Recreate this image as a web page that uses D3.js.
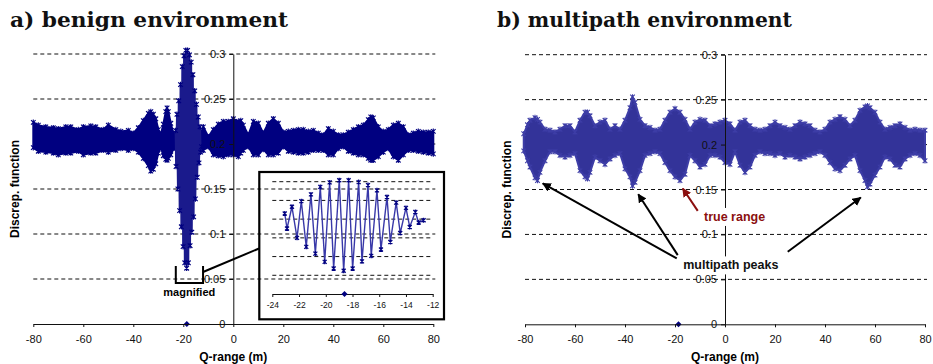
<!DOCTYPE html>
<html><head><meta charset="utf-8">
<script src="https://cdn.jsdelivr.net/npm/d3@7"></script>
<style>body{margin:0;background:#fff} svg{display:block}</style>
</head><body><svg id="c" width="933" height="364"></svg>
<script>
// ---------- data ----------
const xTicks = [-80,-60,-40,-20,0,20,40,60,80];
const yTicks = [0,0.05,0.1,0.15,0.2,0.25,0.3];
const yTickLabels = ["0","0.05","0.1","0.15","0.2","0.25","0.3"];
const insetTicks = [-24,-22,-20,-18,-16,-14,-12];
const trueRange = -18.6;

// benign environment: envelope of the dense discriminator samples
const benignX     = [-80,-78,-75,-72,-70,-67,-65,-62,-60,-57,-55,-52,-50,-47,-45,-42,-40,-38,-36,-34,-33,-32,-31,-30,-29,-28,-27,-26.5,-26,-25,-24,-23.5,-22,-20,-18,-16,-14,-12.5,-12,-10,-8,-6,-4,-2,0,2,3,4,6,8,10,12,14,16,18,20,22,24,26,28,30,32,34,36,38,40,42,44,46,48,50,52,54,55,56,58,60,62,64,66,68,70,72,74,76,78,80];
const benignUpper = [0.224,0.221,0.219,0.218,0.217,0.219,0.219,0.216,0.219,0.220,0.219,0.216,0.221,0.216,0.214,0.215,0.212,0.218,0.226,0.234,0.236,0.233,0.228,0.216,0.210,0.222,0.236,0.240,0.236,0.223,0.212,0.210,0.215,0.215,0.215,0.215,0.215,0.214,0.219,0.208,0.216,0.222,0.225,0.225,0.228,0.225,0.226,0.221,0.210,0.225,0.223,0.212,0.223,0.228,0.223,0.213,0.214,0.215,0.216,0.216,0.214,0.215,0.212,0.210,0.217,0.214,0.210,0.210,0.213,0.216,0.219,0.221,0.227,0.230,0.229,0.219,0.214,0.216,0.221,0.223,0.219,0.210,0.212,0.214,0.213,0.213,0.214];
const benignLower = [0.196,0.192,0.191,0.190,0.188,0.190,0.190,0.192,0.188,0.190,0.190,0.193,0.191,0.193,0.195,0.193,0.195,0.191,0.184,0.176,0.170,0.172,0.178,0.190,0.197,0.187,0.183,0.182,0.184,0.188,0.195,0.196,0.192,0.192,0.192,0.192,0.192,0.193,0.193,0.197,0.188,0.187,0.186,0.188,0.188,0.186,0.190,0.193,0.197,0.188,0.188,0.194,0.188,0.188,0.190,0.197,0.192,0.191,0.190,0.190,0.191,0.193,0.193,0.193,0.188,0.188,0.195,0.197,0.192,0.190,0.188,0.188,0.184,0.182,0.182,0.186,0.191,0.195,0.186,0.182,0.188,0.193,0.193,0.192,0.191,0.190,0.189];

// main correlation peak (also shown magnified): alternating maxima / minima
const peakX = [-23.07,-22.9,-22.53,-22.15,-21.83,-21.46,-21.11,-20.78,-20.41,-20.08,-19.71,-19.41,-18.99,-18.66,-18.29,-17.99,-17.54,-17.29,-16.84,-16.6,-16.17,-15.87,-15.42,-15.17,-14.73,-14.43,-14.0,-13.72,-13.3,-13.05,-12.68];
const peakY = [0.215,0.175,0.233,0.150,0.248,0.126,0.266,0.108,0.286,0.086,0.298,0.068,0.304,0.062,0.304,0.068,0.299,0.087,0.291,0.102,0.277,0.119,0.259,0.139,0.244,0.163,0.230,0.179,0.219,0.191,0.197];

// multipath environment: envelope of the dense discriminator samples
const multiX     = [-80.5,-79,-78,-76,-75,-74,-72,-70,-68,-66,-64,-62,-60,-58,-56,-55,-54,-52,-50,-48,-46,-44,-42,-40,-38,-37,-36,-34,-32,-30,-28,-26,-24,-22,-20,-18,-16,-14,-12,-10,-8,-6,-4,-2,0,2,4,6,8,10,12,14,16,18,20,22,24,26,28,30,32,34,36,38,40,42,44,46,48,50,52,54,56,57,58,60,62,64,66,68,70,72,74,76,78,80];
const multiUpper = [0.212,0.222,0.227,0.230,0.228,0.225,0.217,0.216,0.214,0.217,0.221,0.221,0.214,0.227,0.236,0.236,0.232,0.221,0.225,0.227,0.217,0.221,0.217,0.227,0.241,0.253,0.247,0.228,0.221,0.219,0.216,0.217,0.227,0.236,0.240,0.236,0.228,0.217,0.225,0.228,0.227,0.221,0.223,0.225,0.227,0.223,0.216,0.225,0.227,0.221,0.217,0.216,0.217,0.221,0.225,0.221,0.219,0.217,0.221,0.225,0.223,0.221,0.216,0.214,0.217,0.225,0.228,0.231,0.228,0.221,0.227,0.238,0.242,0.243,0.241,0.236,0.225,0.217,0.219,0.221,0.223,0.219,0.216,0.217,0.216,0.216];
const multiLower = [0.193,0.182,0.175,0.163,0.160,0.169,0.182,0.192,0.192,0.188,0.186,0.188,0.190,0.171,0.164,0.162,0.169,0.186,0.182,0.178,0.184,0.188,0.190,0.173,0.164,0.154,0.158,0.171,0.188,0.190,0.192,0.190,0.180,0.171,0.164,0.160,0.167,0.188,0.182,0.175,0.178,0.188,0.188,0.186,0.180,0.178,0.192,0.177,0.169,0.175,0.188,0.192,0.190,0.190,0.188,0.190,0.186,0.188,0.186,0.184,0.186,0.188,0.190,0.192,0.188,0.180,0.173,0.171,0.177,0.184,0.188,0.171,0.160,0.153,0.156,0.166,0.175,0.186,0.184,0.177,0.175,0.184,0.188,0.190,0.188,0.182];

// annotations (data units of the multipath panel)
const peakArrows = [
  {from:[-19.3,0.0733], to:[-72.9,0.1567]},
  {from:[-18.9,0.077],  to:[-34.7,0.1448]},
  {from:[25.1,0.0807],  to:[54.3,0.1411]}
];
const trueArrow = {from:[-10.9,0.1262], to:[-16.9,0.1511]};

// ---------- drawing ----------
const svg = d3.select("#c");
const FONT = "'Liberation Sans', Arial, sans-serif";
const NAVY = "#000080", MPB = "#333399";

const defs = svg.append("defs");
[["ahBlack","#000"],["ahRed","#8b0f0f"]].forEach(([id,col])=>{
  defs.append("marker").attr("id",id).attr("viewBox","0 0 10 10").attr("refX",9).attr("refY",5)
    .attr("markerWidth",9).attr("markerHeight",9).attr("markerUnits","userSpaceOnUse").attr("orient","auto")
    .append("path").attr("d","M0,0L10,5L0,10z").attr("fill",col);
});

const star = "M-2.3,-2.3L2.3,2.3M-2.3,2.3L2.3,-2.3M0,-2.8L0,2.8";

function panel(x0, x1, yBot, yTop, title, titleX, titleLen, labelX) {
  const x = d3.scaleLinear([-80,80],[x0,x1]);
  const y = d3.scaleLinear([0,0.3],[yBot,yTop]);
  const g = svg.append("g");
  g.selectAll("line.grid").data(yTicks.filter(v=>v>0)).join("line")
    .attr("x1",x(-80)).attr("x2",x(80)+2).attr("y1",d=>y(d)).attr("y2",d=>y(d))
    .attr("stroke","#111").attr("stroke-width",1).attr("stroke-dasharray","4,3");
  svg.append("text").attr("x",titleX).attr("y",26.5).text(title)
    .attr("font-family","'DejaVu Serif', serif").attr("font-weight","bold").attr("font-size",20)
    .attr("textLength",titleLen).attr("lengthAdjust","spacingAndGlyphs").attr("fill","#111");
  svg.append("text").attr("transform",`translate(${labelX},${(yBot+yTop)/2}) rotate(-90)`)
    .attr("text-anchor","middle").attr("font-family",FONT).attr("font-weight","bold").attr("font-size",12)
    .text("Discrep. function");
  svg.append("text").attr("x",x(0)).attr("y",360.5).attr("text-anchor","middle")
    .attr("font-family",FONT).attr("font-weight","bold").attr("font-size",12).text("Q-range (m)");
  return {x,y,g};
}

function axes(p, yBot) {
  const ax = svg.append("g").attr("transform",`translate(0,${yBot})`)
    .call(d3.axisBottom(p.x).tickValues(xTicks).tickSize(3).tickSizeOuter(0).tickPadding(8).tickFormat(d=>d));
  const ay = svg.append("g").attr("transform",`translate(${p.x(0)},0)`)
    .call(d3.axisLeft(p.y).tickValues(yTicks).tickSize(4).tickSizeOuter(0).tickPadding(4).tickFormat((d,i)=>yTickLabels[i]));
  [ax,ay].forEach(a=>{
    a.selectAll("text").attr("font-family",FONT).attr("font-size",11).attr("fill","#111");
    a.selectAll("path,line").attr("stroke","#111");
  });
  return {ax,ay};
}

function band(p, X, U, L, col, edge) {
  const idx = d3.range(X.length);
  p.g.append("path").datum(idx)
    .attr("d", d3.area().x(i=>p.x(X[i])).y0(i=>p.y(L[i])).y1(i=>p.y(U[i])))
    .attr("fill",col).attr("stroke",edge).attr("stroke-width",2).attr("stroke-linejoin","round");
  const pts = idx.flatMap(i=>[[X[i],U[i]],[X[i],L[i]]]);
  p.g.selectAll(null).data(pts).join("path")
    .attr("transform",d=>`translate(${p.x(d[0])},${p.y(d[1])})`).attr("d",star)
    .attr("stroke",edge).attr("stroke-width",1.1).attr("fill","none");
}

function diamond(g, px, py, col) {
  g.append("path").attr("transform",`translate(${px},${py})`).attr("d","M0,-3L3,0L0,3L-3,0Z").attr("fill",col);
}

// ---- panel a ----
const A = panel(33.3, 433.3, 324, 54, "a) benign environment", 10, 278, 19);
const axA = axes(A, 324);
band(A, benignX, benignUpper, benignLower, NAVY, NAVY);
const pk = d3.range(peakX.length);
A.g.append("path").datum(pk).attr("d", d3.line().x(i=>A.x(peakX[i])).y(i=>A.y(peakY[i])))
  .attr("fill","none").attr("stroke","#1a1a8c").attr("stroke-width",1.9).attr("stroke-linejoin","bevel");
A.g.selectAll(null).data(pk).join("path")
  .attr("transform",i=>`translate(${A.x(peakX[i])},${A.y(peakY[i])})`).attr("d",star)
  .attr("stroke",NAVY).attr("stroke-width",1.2).attr("fill","none");
diamond(A.g, A.x(trueRange), A.y(0), NAVY);
axA.ay.raise(); axA.ax.raise();

// magnified bracket & leader
svg.append("path").attr("d",`M${A.x(-23)},${A.y(0.0644)}V${A.y(0.0456)}H${A.x(-12.1)}V${A.y(0.0644)}`)
  .attr("fill","none").attr("stroke","#000").attr("stroke-width",2);
svg.append("line").attr("x1",A.x(-12.1)).attr("y1",272).attr("x2",259).attr("y2",248.5)
  .attr("stroke","#000").attr("stroke-width",2);
svg.append("text").attr("x",A.x(-17.6)).attr("y",296).attr("text-anchor","middle")
  .attr("font-family",FONT).attr("font-weight","bold").attr("font-size",11).text("magnified");

// inset
const xI = d3.scaleLinear([-24,-12],[272.3,432.7]);
const yI = d3.scaleLinear([0,0.3],[294,181.7]);
const gi = svg.append("g");
gi.selectAll(null).data(yTicks.filter(v=>v>0)).join("line")
  .attr("x1",xI(-24)).attr("x2",xI(-12)).attr("y1",d=>yI(d)).attr("y2",d=>yI(d))
  .attr("stroke","#111").attr("stroke-dasharray","4,3");
const axI = gi.append("g").attr("transform",`translate(0,${yI(0)})`)
  .call(d3.axisBottom(xI).tickValues(insetTicks).tickSize(3).tickSizeOuter(0).tickPadding(5).tickFormat(d=>d));
axI.selectAll("text").attr("font-family",FONT).attr("font-size",8.5).attr("fill","#111");
axI.selectAll("path,line").attr("stroke","#111");
gi.append("path").datum(pk).attr("d", d3.line().x(i=>xI(peakX[i])).y(i=>yI(peakY[i])))
  .attr("fill","none").attr("stroke","#3838a8").attr("stroke-width",1.4);
gi.selectAll(null).data(pk).join("path")
  .attr("transform",i=>`translate(${xI(peakX[i])},${yI(peakY[i])})`).attr("d","M-2,-2L2,2M-2,2L2,-2M0,-2.5L0,2.5")
  .attr("stroke",NAVY).attr("stroke-width",1.2).attr("fill","none");
diamond(gi, xI(trueRange), yI(0), NAVY);
gi.append("rect").attr("x",259.3).attr("y",172).attr("width",184.7).attr("height",147.3)
  .attr("fill","none").attr("stroke","#000").attr("stroke-width",2.2);

// ---- panel b ----
const B = panel(525, 925, 324.3, 54.7, "b) multipath environment", 497, 295, 511);
const axB = axes(B, 324.3);
band(B, multiX, multiUpper, multiLower, MPB, "#3d3da6");
diamond(B.g, B.x(trueRange), B.y(0), NAVY);
axB.ay.raise(); axB.ax.raise();

// annotations
function label(txt, xv, yv, col) {
  const t = svg.append("text").attr("x",B.x(xv)).attr("y",B.y(yv)).text(txt)
    .attr("font-family",FONT).attr("font-weight","bold").attr("font-size",12.5).attr("fill",col);
  const bb = t.node().getBBox();
  svg.insert("rect", () => t.node()).attr("x",bb.x-2).attr("y",bb.y-2).attr("width",bb.width+4).attr("height",bb.height+4).attr("fill","#fff");
}
label("multipath peaks", -16.7, 0.0611, "#111");
label("true range", -8.4, 0.115, "#8b0f0f");
svg.selectAll(null).data(peakArrows).join("line")
  .attr("x1",d=>B.x(d.from[0])).attr("y1",d=>B.y(d.from[1]))
  .attr("x2",d=>B.x(d.to[0])).attr("y2",d=>B.y(d.to[1]))
  .attr("stroke","#000").attr("stroke-width",2).attr("marker-end","url(#ahBlack)");
svg.append("line").attr("x1",B.x(trueArrow.from[0])).attr("y1",B.y(trueArrow.from[1]))
  .attr("x2",B.x(trueArrow.to[0])).attr("y2",B.y(trueArrow.to[1]))
  .attr("stroke","#8b0f0f").attr("stroke-width",2).attr("marker-end","url(#ahRed)");
</script></body></html>
